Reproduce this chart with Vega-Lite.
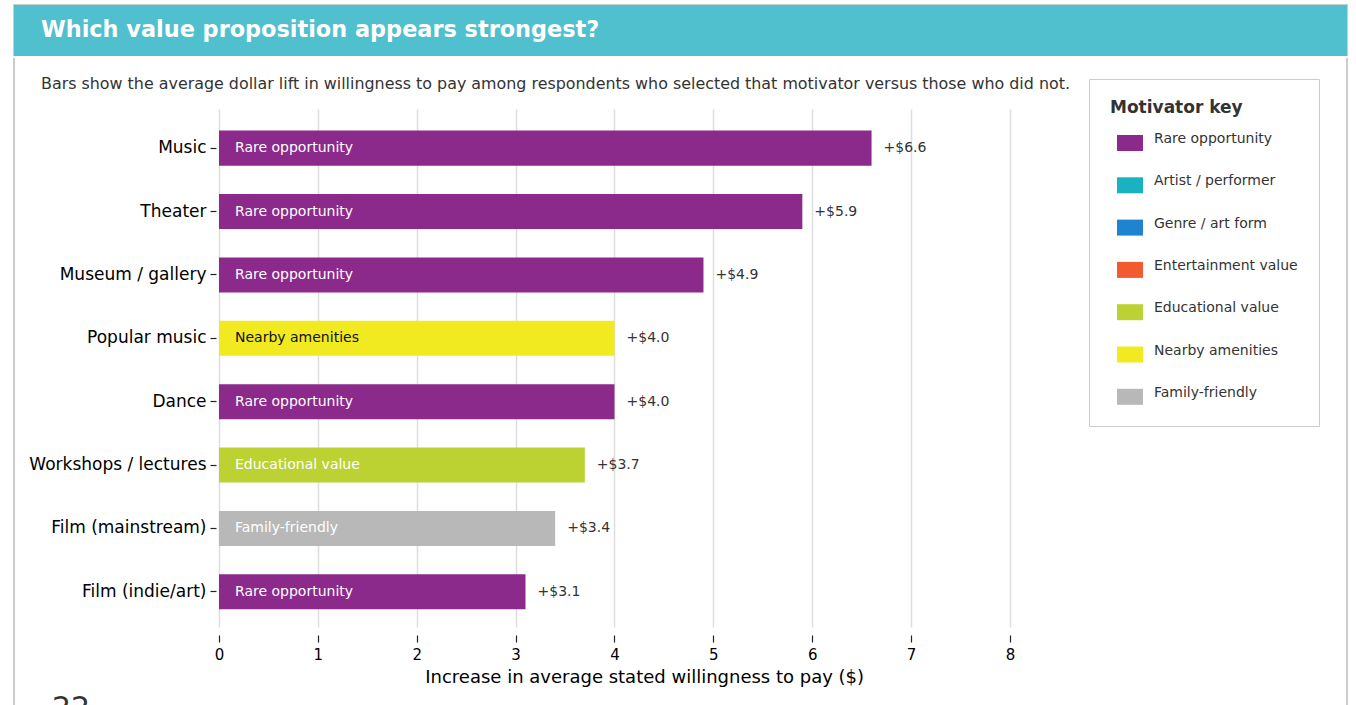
{
  "$schema": "https://vega.github.io/schema/vega-lite/v6.json",
  "padding": {"left": 13, "top": 4, "right": 0, "bottom": 0},
  "autosize": {"type": "pad"},
  "background": "white",
  "config": {"font": "DejaVu Sans", "view": {"stroke": null}},
  "title": {"text": "22", "orient": "bottom", "anchor": "start", "frame": "bounds", "offset": -25, "dx": 39, "baseline": "top", "fontSize": 30, "fontWeight": "normal", "color": "#333333"},
  "spacing": 0,
  "vconcat": [
    {
      "width": 1333,
      "height": 51,
      "view": {"stroke": "#cccccc", "strokeWidth": 2, "strokeDash": [1384, 1333, 51]},
      "title": {"text": "Which value proposition appears strongest?", "orient": "top", "anchor": "start", "frame": "group", "offset": -47, "dx": 27, "baseline": "middle", "fontSize": 22.4, "fontWeight": "bold", "color": "white"},
      "data": {"values": [{"band": "header"}]},
      "mark": {"type": "rect", "color": "#50c0ce"},
      "encoding": {}
    },
    {
      "width": 1333,
      "height": 660,
      "view": {"stroke": "#cccccc", "strokeWidth": 2, "strokeDash": [0, 1333, 660, 1333, 660]},
      "title": {"text": "Bars show the average dollar lift in willingness to pay among respondents who selected that motivator versus those who did not.", "orient": "top", "anchor": "start", "frame": "group", "offset": -42, "dx": 27, "baseline": "middle", "fontSize": 15.9, "fontWeight": "normal", "color": "#333333"},
      "data": {"values": [
        {"activity": "Music", "lift": 6.6, "motivator": "Rare opportunity"},
        {"activity": "Theater", "lift": 5.9, "motivator": "Rare opportunity"},
        {"activity": "Museum / gallery", "lift": 4.9, "motivator": "Rare opportunity"},
        {"activity": "Popular music", "lift": 4.0, "motivator": "Nearby amenities"},
        {"activity": "Dance", "lift": 4.0, "motivator": "Rare opportunity"},
        {"activity": "Workshops / lectures", "lift": 3.7, "motivator": "Educational value"},
        {"activity": "Film (mainstream)", "lift": 3.4, "motivator": "Family-friendly"},
        {"activity": "Film (indie/art)", "lift": 3.1, "motivator": "Rare opportunity"}
      ]},
      "resolve": {"axis": {"x": "independent"}},
      "encoding": {
        "y": {
          "field": "activity", "type": "nominal", "sort": null,
          "scale": {"range": [51, 569], "paddingInner": 0.4476, "paddingOuter": 0.31, "align": 0.55},
          "axis": {"title": null, "offset": -202, "domain": false, "grid": false, "tickSize": 6, "tickColor": "#222222", "tickWidth": 1.2, "labelFontSize": 17, "labelColor": "#000000", "labelPadding": 4, "labelLimit": 400}
        }
      },
      "layer": [
        {
          "mark": {"type": "bar"},
          "encoding": {
            "x": {
              "field": "lift", "type": "quantitative",
              "scale": {"domain": [0, 8.6], "range": [205, 1055.3], "nice": false, "zero": true},
              "axis": {"orient": "bottom", "values": [0, 1, 2, 3, 4, 5, 6, 7, 8], "format": "d", "title": "Increase in average stated willingness to pay ($)", "offset": -83, "domain": false, "grid": false, "tickSize": 7, "tickColor": "#222222", "tickWidth": 1.2, "labelFontSize": 15, "labelColor": "#000000", "labelPadding": 5, "labelFlush": false, "titleFontSize": 18, "titleFontWeight": "normal", "titleColor": "#000000", "titlePadding": 6}
            },
            "color": {
              "field": "motivator", "type": "nominal",
              "scale": {
                "domain": ["Rare opportunity", "Artist / performer", "Genre / art form", "Entertainment value", "Educational value", "Nearby amenities", "Family-friendly"],
                "range": ["#8b2a8b", "#19b2c0", "#1f84d0", "#f25a30", "#bcd132", "#f2ea20", "#b8b8b8"]
              },
              "legend": {"title": "Motivator key", "orient": "none", "legendX": 1075, "legendY": 74, "padding": 21, "strokeColor": "#cccccc", "fillColor": "white", "cornerRadius": 0, "titleFontSize": 17, "titleFontWeight": "bold", "titleColor": "#333333", "titlePadding": 13, "labelFontSize": 14, "labelColor": "#333333", "labelBaseline": "alphabetic", "symbolType": "M-1,-0.615H1V0.615H-1Z", "symbolSize": 676, "symbolStrokeWidth": 0, "symbolOpacity": 1, "symbolOffset": 7, "rowPadding": 21.3, "labelOffset": 11}
            }
          }
        },
        {
          "mark": {"type": "text", "align": "left", "baseline": "middle", "dx": 16, "fontSize": 14},
          "encoding": {
            "x": {"datum": 0, "type": "quantitative", "axis": null},
            "text": {"field": "motivator"},
            "color": {"condition": {"test": "datum.motivator === 'Nearby amenities'", "value": "#111111"}, "value": "#ffffff"}
          }
        },
        {
          "mark": {"type": "text", "align": "left", "baseline": "middle", "dx": 12, "fontSize": 14, "color": "#333333"},
          "encoding": {
            "x": {
              "field": "lift", "type": "quantitative",
              "axis": {"orient": "top", "values": [0, 1, 2, 3, 4, 5, 6, 7, 8], "grid": true, "gridColor": "#dddddd", "gridWidth": 1.5, "labels": false, "ticks": false, "domain": false, "title": null}
            },
            "text": {"field": "lift", "type": "quantitative", "format": "+$.1f"}
          }
        }
      ]
    }
  ]
}
